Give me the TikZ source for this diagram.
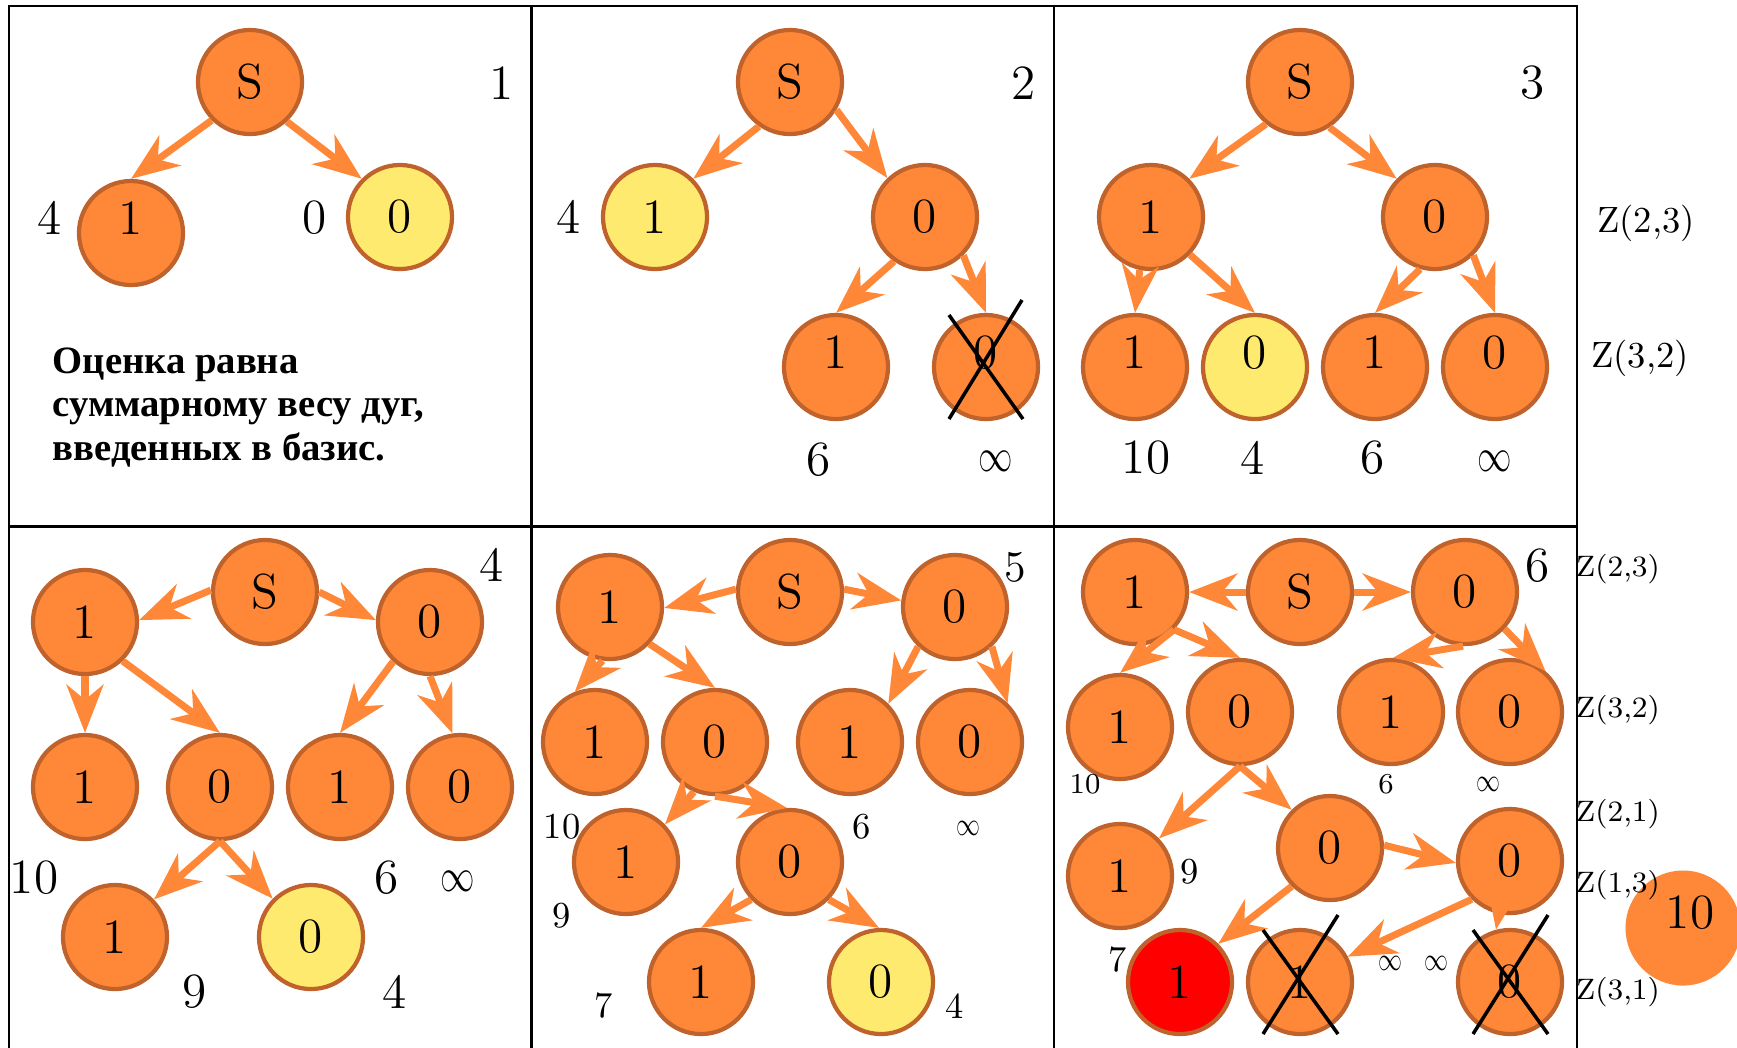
\documentclass[tikz,border=0pt]{standalone}
\usepackage{graphicx}
\usepackage{fontspec}
\newfontfamily\rusfont{Liberation Serif}
\usepackage{tikz}
\usetikzlibrary{arrows.meta}
\definecolor{ndorange}{RGB}{255,136,56}
\definecolor{ndedge}{RGB}{192,98,43}
\definecolor{ndyellow}{RGB}{255,234,112}
\definecolor{ndred}{RGB}{255,0,0}
\newcommand{\infsym}{\scalebox{0.68}[0.93]{$\infty$}}

\begin{document}
\begin{tikzpicture}[
  x=0.01cm,y=-0.01cm,
  nd/.style={circle,draw=ndedge,line width=1.2pt,fill=ndorange,
    minimum size=1.04cm,inner sep=0pt,font=\fontsize{14}{16}\selectfont},
  ylw/.style={nd,fill=ndyellow},
  hot/.style={nd,fill=ndred},
  hi/.style={text depth=8.5pt},
  arr/.style={draw=ndorange,line width=2pt,
    -{Stealth[length=13.7pt,width=10.5pt,inset=4.3pt]}},
  num/.style={inner sep=0pt,font=\fontsize{14}{16}\selectfont},
  nums/.style={inner sep=0pt,font=\fontsize{10.4}{12}\selectfont},
  numt/.style={inner sep=0pt,font=\fontsize{8.2}{10}\selectfont},
  zl/.style={inner sep=0pt,font=\fontsize{10.4}{12}\selectfont},
  zls/.style={inner sep=0pt,font=\fontsize{8.4}{10}\selectfont},
  xline/.style={line width=1pt},
  panel/.style={draw,line width=0.8pt},
  note/.style={anchor=north west,inner sep=0pt,align=left,
    font=\rusfont\bfseries\fontsize{11}{12.4}\selectfont}
]
  \clip (0,0) rectangle (1737,1047);
  % panel frames
  \foreach \xa/\xb/\ya/\yb in {9/531/6/526,532/1054/6/526,1054/1577/6/526,
      9/531/527/1060,532/1054/527/1060,1054/1577/527/1060}
    \draw[panel] (\xa,\ya) rectangle (\xb,\yb);

  % step 1
  \node[nd] (s1) at (250,82) {S};
  \node[nd,hi] (l1) at (131,233) {1};
  \node[ylw] (r1) at (400,217) {0};
  \draw[arr] (s1.225) -- (l1.90);
  \draw[arr] (s1.-47) -- (r1.135);
  \node[num] (w1a) at (50,218) {4};
  \node[num] (w1b) at (315,218) {0};
  \node[num] (st1) at (502,83) {1};
  \node[note] (txt) at (52,347) {Оценка равна\\суммарному весу дуг,\\введенных в базис.};

  % step 2
  \node[nd] (s2) at (790,82) {S};
  \node[ylw] (l2) at (655,217) {1};
  \node[nd] (r2) at (925,217) {0};
  \node[nd,hi] (rl2) at (836,367) {1};
  \node[nd,hi] (rr2) at (986,367) {0};
  \draw[arr] (s2.235) -- (l2.45);
  \draw[arr] (s2.-31) -- (r2.134);
  \draw[arr] (r2.235) -- (rl2.90);
  \draw[arr] (r2.-45) -- (rr2.90);
  \draw[xline] ([shift={(-37,-52)}]rr2.center) -- ([shift={(37,52)}]rr2.center);
  \draw[xline] ([shift={(36,-67)}]rr2.center) -- ([shift={(-37,52)}]rr2.center);
  \node[num] (w2a) at (569,217) {4};
  \node[num] (w2b) at (819,460) {6};
  \node[num] (w2c) at (996,461) {\infsym};
  \node[num] (st2) at (1024,83) {2};

  % step 3
  \node[nd] (s3) at (1300,82) {S};
  \node[nd] (l3) at (1151,217) {1};
  \node[nd] (r3) at (1435,217) {0};
  \node[nd,hi] (ll3) at (1135,367) {1};
  \node[ylw,hi] (lr3) at (1255,367) {0};
  \node[nd,hi] (rl3) at (1375,367) {1};
  \node[nd,hi] (rr3) at (1495,367) {0};
  \draw[arr] (s3.231) -- (l3.45);
  \draw[arr] (s3.-57) -- (r3.135);
  \draw[arr] (l3.258) -- (ll3.90);
  \draw[arr] (l3.-44) -- (lr3.90);
  \draw[arr] (r3.254) -- (rl3.90);
  \draw[arr] (r3.-45) -- (rr3.90);
  \node[num] (w3a) at (1146,458) {10};
  \node[num] (w3b) at (1253,458) {4};
  \node[num] (w3c) at (1373,458) {6};
  \node[num] (w3d) at (1495,461) {\infsym};
  \node[num] (st3) at (1533,83) {3};
  \node[zl] (z3a) at (1646,223) {Z(2,3)};
  \node[zl] (z3b) at (1640,358) {Z(3,2)};

  % step 4
  \node[nd] (s4) at (265,592) {S};
  \node[nd] (l4) at (85,622) {1};
  \node[nd] (r4) at (430,622) {0};
  \node[nd] (ll4) at (85,787) {1};
  \node[nd] (lr4) at (220,787) {0};
  \node[nd] (rl4) at (340,787) {1};
  \node[nd] (rr4) at (460,787) {0};
  \node[nd] (lrl4) at (115,937) {1};
  \node[ylw] (lrr4) at (311,937) {0};
  \draw[arr] (s4.178) -- (l4.2);
  \draw[arr] (s4.0) -- (r4.178);
  \draw[arr] (l4.270) -- (ll4.90);
  \draw[arr] (l4.-46) -- (lr4.90);
  \draw[arr] (r4.227) -- (rl4.90);
  \draw[arr] (r4.270) -- (rr4.98);
  \draw[arr] (lr4.270) -- (lrl4.44);
  \draw[arr] (lr4.270) -- (lrr4.135);
  \node[num] (st4) at (492,565) {4};
  \node[num] (w4a) at (34,878) {10};
  \node[num] (w4b) at (387,878) {6};
  \node[num] (w4c) at (458,881) {\infsym};
  \node[num] (w4d) at (195,992) {9};
  \node[num] (w4e) at (395,992) {4};

  % step 5
  \node[nd] (s5) at (790,592) {S};
  \node[nd] (l5) at (610,607) {1};
  \node[nd] (r5) at (955,607) {0};
  \node[nd] (ll5) at (595,742) {1};
  \node[nd] (lr5) at (715,742) {0};
  \node[nd] (rl5) at (850,742) {1};
  \node[nd] (rr5) at (970,742) {0};
  \node[nd] (lrl5) at (626,862) {1};
  \node[nd] (lrr5) at (790,862) {0};
  \node[nd] (ml5) at (701,982) {1};
  \node[ylw] (mr5) at (881,982) {0};
  \draw[arr] (s5.177) -- (l5.-1);
  \draw[arr] (s5.3) -- (r5.173);
  \draw[arr] (l5.262) -- (ll5.112);
  \draw[arr] (l5.-43) -- (lr5.90);
  \draw[arr] (r5.227) -- (rl5.45);
  \draw[arr] (r5.-47) -- (rr5.46);
  \draw[arr] (lr5.247) -- (lrl5.44);
  \draw[arr] (lr5.270) -- (lrr5.93);
  \draw[arr] (lrr5.224) -- (ml5.90);
  \draw[arr] (lrr5.-44) -- (mr5.92);
  \node[num,font=\fontsize{12.5}{14}\selectfont] (st5) at (1015,567) {5};
  \node[nums] (w5a) at (562,827) {10};
  \node[nums] (w5b) at (862,827) {6};
  \node[nums] (w5c) at (968,828) {\infsym};
  \node[nums] (w5d) at (562,916) {9};
  \node[nums] (w5e) at (604,1006) {7};
  \node[nums] (w5f) at (955,1006) {4};

  % step 6
  \node[nd] (l6) at (1135,592) {1};
  \node[nd] (s6) at (1300,592) {S};
  \node[nd] (r6) at (1465,592) {0};
  \node[nd] (ll6) at (1120,727) {1};
  \node[nd] (lr6) at (1240,712) {0};
  \node[nd] (rl6) at (1391,712) {1};
  \node[nd] (rr6) at (1510,712) {0};
  \node[nd] (lrl6) at (1120,876) {1};
  \node[nd] (lrr6) at (1330,848) {0};
  \node[nd] (k6) at (1510,861) {0};
  \node[hot] (red6) at (1180,982) {1};
  \node[nd] (x16) at (1300,982) {1};
  \node[nd] (x06) at (1510,982) {0};
  \draw[arr] (s6) -- (l6);
  \draw[arr] (s6) -- (r6);
  \draw[arr] (l6.-44) -- (ll6.90);
  \draw[arr] (l6.-44) -- (lr6.90);
  \draw[arr] (r6.268) -- (rl6.88);
  \draw[arr] (r6.-43) -- (rr6.49);
  \draw[arr] (lr6.270) -- (lrl6.44);
  \draw[arr] (lr6.270) -- (lrr6.135);
  \draw[arr] (lrr6.3) -- (k6.182);
  \draw[arr] (lrr6.225) -- (red6.45);
  \draw[arr] (k6.225) -- (x16.28);
  \draw[arr] (k6.258) -- (x06.105);
  \foreach \nn in {x16,x06} {
    \draw[xline] ([shift={(-37,-52)}]\nn.center) -- ([shift={(38,52)}]\nn.center);
    \draw[xline] ([shift={(38,-67)}]\nn.center) -- ([shift={(-37,52)}]\nn.center);
  }
  \node[num] (st6) at (1538,566) {6};
  \node[numt] (w6a) at (1085,784) {10};
  \node[numt] (w6b) at (1386,784) {6};
  \node[nums] (w6c) at (1488,784) {\infsym};
  \node[nums] (w6d) at (1190,872) {9};
  \node[nums] (w6e) at (1118,960) {7};
  \node[nums] (w6f) at (1390,963) {\infsym};
  \node[nums] (w6g) at (1436,963) {\infsym};

  % total
  \node[circle,fill=ndorange,minimum size=1.15cm,inner sep=0pt] (big) at (1683,928) {};
  \node[num] (bigtxt) at (1690,913) {10};
  \node[zls] (z6a) at (1618,569) {Z(2,3)};
  \node[zls] (z6b) at (1618,710) {Z(3,2)};
  \node[zls] (z6c) at (1618,814) {Z(2,1)};
  \node[zls] (z6d) at (1618,885) {Z(1,3)};
  \node[zls] (z6e) at (1618,992) {Z(3,1)};
\end{tikzpicture}
\end{document}
